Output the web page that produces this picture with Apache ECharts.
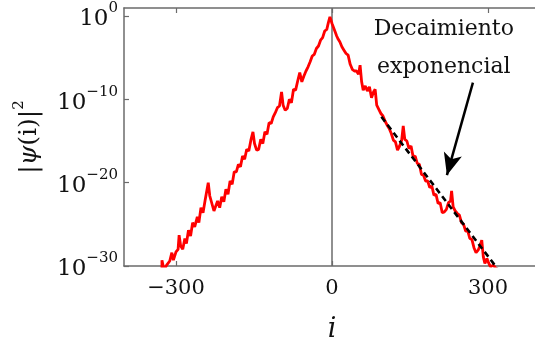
<!DOCTYPE html>
<html>
<head>
<meta charset="utf-8">
<script src="https://cdn.jsdelivr.net/npm/echarts@6/dist/echarts.min.js"></script>
<style>
  html, body { margin: 0; padding: 0; background: #fff; }
  #chart { width: 535px; height: 350px; }
</style>
</head>
<body>
<div id="chart"></div>
<script>
// site index i and log10 |psi(i)|^2
const siteIdx = [
  -327, -327, -323, -318, -312, -308, -305, -300, -296, -294, -291, -287, -283, -280, -276, -272,
  -268, -264, -259, -256, -252, -248, -244, -241, -238, -235, -231, -227, -224, -220, -216, -212,
  -208, -204, -200, -196, -192, -188, -184, -180, -176, -172, -168, -164, -160, -156, -152, -149,
  -145, -141, -137, -133, -129, -125, -121, -117, -113, -109, -105, -101, -97, -94, -90, -86,
  -82, -78, -74, -70, -66, -62, -58, -54, -50, -46, -42, -38, -34, -30, -26, -22,
  -18, -14, -10, -7, -4,
  0, 3, 6, 9, 12, 15, 19, 23, 27, 31, 35, 39, 43, 47, 51, 54,
  57, 60, 64, 68, 72, 76, 80, 83, 86, 90, 94, 98, 102, 106, 110, 114,
  118, 122, 126, 130, 134, 137, 140, 144, 148, 152, 156, 160, 164, 168, 172, 176,
  180, 184, 188, 192, 196, 200, 204, 208, 212, 216, 220, 224, 228, 230, 233, 237,
  241, 245, 249, 253, 257, 261, 265, 269, 273, 277, 281, 285, 288, 291, 294, 298,
  301, 305, 310, 317
];
const logPsi = [
  -30.6, -29.3, -30.5, -29.9, -29.4, -28.4, -29.3, -28.3, -28.0, -26.3, -27.6, -28.0, -26.7, -27.3, -25.7, -26.4,
  -24.8, -25.3, -24.1, -24.8, -23.0, -23.6, -22.1, -22.0, -20.0, -21.6, -22.5, -23.4, -23.5, -22.2, -23.0, -21.7,
  -22.3, -20.8, -21.4, -19.8, -20.2, -18.7, -18.7, -17.8, -18.1, -16.8, -17.2, -16.0, -16.2, -14.9, -13.9, -15.3,
  -16.1, -16.0, -14.8, -15.3, -13.9, -14.2, -12.8, -12.9, -12.1, -11.6, -11.0, -10.8, -9.1, -10.7, -11.3, -11.1,
  -10.0, -10.4, -8.8, -8.9, -7.8, -6.8, -7.9, -7.2, -6.6, -6.1, -5.5, -4.8, -4.6, -3.9, -3.6, -2.9,
  -2.6, -1.8, -1.6, -0.8, -0.1,
  -0.9, -1.0, -1.9, -2.4, -2.8, -3.1, -3.7, -4.1, -4.5, -4.7, -5.8, -6.4, -6.6, -6.6, -7.0, -5.9,
  -7.9, -8.9, -8.4, -9.0, -8.5, -9.8, -9.1, -8.8, -10.7, -11.2, -11.7, -12.0, -12.6, -13.1, -13.5, -14.1,
  -14.9, -15.1, -16.1, -15.6, -14.9, -13.2, -14.8, -15.0, -15.9, -15.6, -16.9, -16.8, -17.7, -17.8, -19.0, -19.1,
  -19.8, -19.8, -20.6, -20.4, -21.5, -21.4, -22.5, -22.4, -23.6, -23.5, -23.2, -22.4, -22.2, -21.0, -22.9, -23.4,
  -23.7, -23.9, -24.8, -25.0, -25.8, -25.8, -26.7, -26.8, -27.8, -28.4, -28.1, -27.5, -26.9, -28.9, -29.7, -29.1,
  -29.6, -30.1, -29.9, -30.4
];
// exponential fit (dashed)
const fitIdx = [95, 318];
const fitLog = [-12.1, -30.3];
const xTicks = [-300, 0, 300];
const yTicks = [-30, -20, -10, 0];

const font = 'DejaVu Serif';
const axisGray = '#6b6b6b';

const chart = echarts.init(document.getElementById('chart'), null, { renderer: 'canvas' });

const psiData = siteIdx.map((v, k) => [v, logPsi[k]]);
const fitData = fitIdx.map((v, k) => [v, fitLog[k]]);

chart.setOption({
  animation: false,
  backgroundColor: '#fff',
  grid: { left: 124, right: -5, top: 8, bottom: 84, outerBoundsMode: 'none', containLabel: false },
  xAxis: [
    {
      type: 'value',
      position: 'bottom',
      min: -400,
      max: 400,
      axisLine: { onZero: false, lineStyle: { color: axisGray, width: 1.5 } },
      axisTick: { inside: true, length: 5, customValues: xTicks, lineStyle: { color: axisGray, width: 1.2 } },
      axisLabel: {
        customValues: xTicks,
        margin: 12,
        color: '#111',
        fontFamily: font,
        fontSize: 21,
        formatter: v => String(v).replace('-', '\u2212'),
      },
      splitLine: { show: false },
      name: 'i',
      nameLocation: 'middle',
      nameGap: 50,
      nameTextStyle: { fontFamily: font, fontStyle: 'italic', fontSize: 27, color: '#111' },
    },
    {
      type: 'value',
      position: 'top',
      min: -400,
      max: 400,
      axisLine: { onZero: false, lineStyle: { color: axisGray, width: 1.5 } },
      axisTick: { inside: true, length: 5, customValues: xTicks, lineStyle: { color: axisGray, width: 1.2 } },
      axisLabel: { show: false },
      splitLine: { show: false },
    },
  ],
  yAxis: {
    type: 'value',
    min: -30,
    max: 0.96,
    interval: 10,
    axisLine: { show: true, onZero: false, lineStyle: { color: axisGray, width: 1.5 } },
    axisTick: { show: true, inside: true, length: 5, customValues: yTicks, lineStyle: { color: axisGray, width: 1.2 } },
    axisLabel: {
      customValues: yTicks,
      margin: 6,
      color: '#111',
      formatter: v => '{b|10}{s|' + (v === 0 ? '0' : '\u2212' + Math.abs(v)) + '}',
      rich: {
        b: { fontFamily: font, fontSize: 23, lineHeight: 30, verticalAlign: 'bottom', color: '#111' },
        s: { fontFamily: font, fontSize: 15, lineHeight: 30, verticalAlign: 'top', color: '#111' },
      },
    },
    splitLine: { show: false },
    name: '|{it|\u03c8}(i)|{s|2}',
    nameLocation: 'middle',
    nameGap: 78,
    nameTextStyle: {
      fontFamily: font,
      fontSize: 25,
      color: '#111',
      rich: {
        it: { fontFamily: font, fontSize: 25, fontStyle: 'italic', color: '#111' },
        s: { fontFamily: font, fontSize: 15, verticalAlign: 'top', lineHeight: 34, color: '#111' },
      },
    },
  },
  series: [
    {
      type: 'line',
      data: psiData,
      symbol: 'none',
      clip: true,
      lineStyle: { color: '#ff0000', width: 2.8 },
      z: 3,
      markLine: {
        silent: true,
        symbol: 'none',
        label: { show: false },
        lineStyle: { color: axisGray, width: 1.5, type: 'solid' },
        data: [{ xAxis: 0 }],
        z: 1,
      },
    },
    {
      type: 'line',
      data: fitData,
      symbol: 'none',
      clip: true,
      lineStyle: { color: '#000', width: 2.6, type: [6, 4] },
      z: 4,
      markLine: {
        silent: true,
        symbol: ['none', 'arrow'],
        symbolSize: [14, 22],
        label: { show: false },
        lineStyle: { color: '#000', width: 2.5, type: 'solid' },
        data: [[{ coord: [271, -8.0] }, { coord: [221, -19.1] }]],
      },
      markPoint: {
        silent: true,
        symbol: 'circle',
        symbolSize: 1,
        itemStyle: { color: 'rgba(0,0,0,0)' },
        label: {
          show: true,
          position: 'inside',
          formatter: 'Decaimiento\nexponencial',
          fontFamily: font,
          fontSize: 22,
          lineHeight: 38,
          color: '#111',
          align: 'center',
        },
        data: [{ coord: [215, -3.85] }],
      },
    },
  ],
});
</script>
</body>
</html>
